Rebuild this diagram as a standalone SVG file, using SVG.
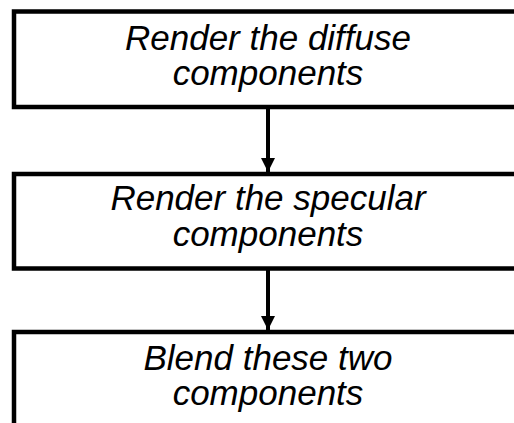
<svg xmlns="http://www.w3.org/2000/svg" width="514" height="423" viewBox="0 0 514 423">
<style>
.box{fill:#fff;stroke:#000;stroke-width:4.5}
.t{font-family:"Liberation Sans",Arial,sans-serif;font-style:italic;font-size:35px;fill:#000;text-anchor:middle}
.c{stroke:#000;stroke-width:4;fill:none}
</style>
<defs>
<marker id="ah" markerUnits="userSpaceOnUse" markerWidth="14" markerHeight="14" refX="14" refY="7" orient="auto">
<path d="M0,0 L14,7 L0,14 Z" fill="#000"/>
</marker>
</defs>
<rect width="514" height="423" fill="#fff"/>
<g id="connectors">
<line class="c" x1="268" y1="107" x2="268" y2="172" marker-end="url(#ah)"/>
<line class="c" x1="268" y1="268" x2="268" y2="330" marker-end="url(#ah)"/>
</g>
<g id="node1">
<rect class="box" x="14" y="11.5" width="510" height="95.5"/>
<text class="t"><tspan x="268" y="50">Render the diffuse</tspan><tspan x="268" y="85">components</tspan></text>
</g>
<g id="node2">
<rect class="box" x="14" y="174" width="510" height="94.5"/>
<text class="t"><tspan x="268" y="210">Render the specular</tspan><tspan x="268" y="246">components</tspan></text>
</g>
<g id="node3">
<rect class="box" x="14" y="332" width="510" height="100"/>
<text class="t"><tspan x="268" y="370">Blend these two</tspan><tspan x="268" y="405">components</tspan></text>
</g>
</svg>
